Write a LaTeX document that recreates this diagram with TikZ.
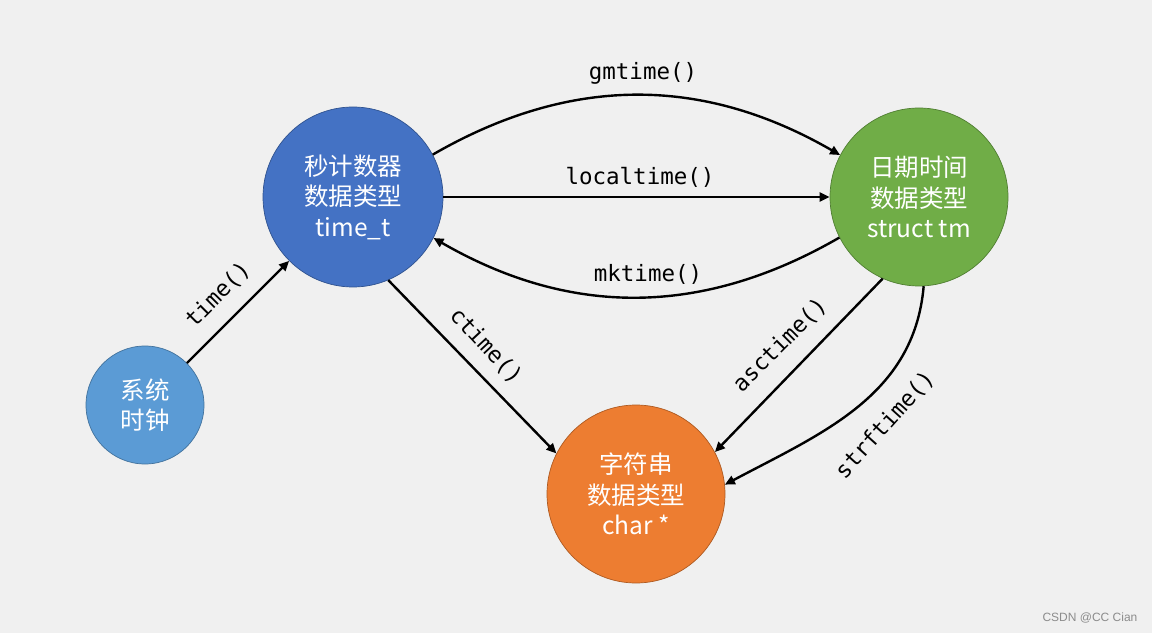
\documentclass[tikz,border=0pt]{standalone}
\usepackage{fontspec}
\setmainfont{Noto Sans CJK SC}
\newfontfamily\monofont{DejaVu Sans Mono}
\newfontfamily\wmfont{Liberation Sans}
\usetikzlibrary{arrows.meta}
\definecolor{bg}{HTML}{F0F0F0}
\definecolor{cA}{HTML}{5B9BD5}\definecolor{cAd}{HTML}{41719C}
\definecolor{cB}{HTML}{4472C4}\definecolor{cBd}{HTML}{2F528F}
\definecolor{cC}{HTML}{70AD47}\definecolor{cCd}{HTML}{507E32}
\definecolor{cD}{HTML}{ED7D31}\definecolor{cDd}{HTML}{AE5A21}
\begin{document}
\begin{tikzpicture}[x=1pt,y=1pt,
  state/.style={circle,minimum size=#1,inner sep=0pt,text=white,
    font=\fontsize{24.5}{30.5}\selectfont,align=center,line width=0.7pt},
  conn/.style={line width=2.4pt,-{Triangle[length=10pt,width=9pt]}},
  lbl/.style={font=\monofont\fontsize{22.5}{26}\selectfont,inner sep=0pt}]
\fill[bg] (0,0) rectangle (1152,633);
\useasboundingbox (0,0) rectangle (1152,633);
\node[state=118pt,fill=cA,draw=cAd] (clk) at (145,228) {系统\\时钟};
\node[state=180pt,fill=cB,draw=cBd] (sec) at (353,436) {秒计数器\\数据类型\\time\_t};
\node[state=178pt,fill=cC,draw=cCd] (dt) at (919,436) {日期时间\\数据类型\\struct tm};
\node[state=178pt,fill=cD,draw=cDd] (str) at (636,139) {字符串\\数据类型\\char *};
\draw[conn] (clk) -- (sec);
\draw[conn] (sec.-67) -- (str.153);
\draw[conn] (sec) -- (dt);
\draw[conn] (sec.28) to[out=30,in=150] (dt.152);
\draw[conn] (dt.207) to[out=210,in=-30] (sec.-27);
\draw[conn] (dt.246) -- (str.28);
\draw[conn] (dt.273) to[out=265,in=28] (str.6);
\node[lbl] (l1) at (643,560) {gmtime()};
\node[lbl] (l2) at (640,456) {localtime()};
\node[lbl] (l3) at (648,359) {mktime()};
\node[lbl,rotate=45] (l4) at (218,338) {time()};
\node[lbl,rotate=-47] (l5) at (486,287) {ctime()};
\node[lbl,rotate=45] (l6) at (780,288) {asctime()};
\node[lbl,rotate=48] (l7) at (885,208) {strftime()};
\node[font=\wmfont\fontsize{12}{14}\selectfont,text=black!45,inner sep=0pt] (wm) at (1090,15) {CSDN @CC Cian};
\end{tikzpicture}
\end{document}
